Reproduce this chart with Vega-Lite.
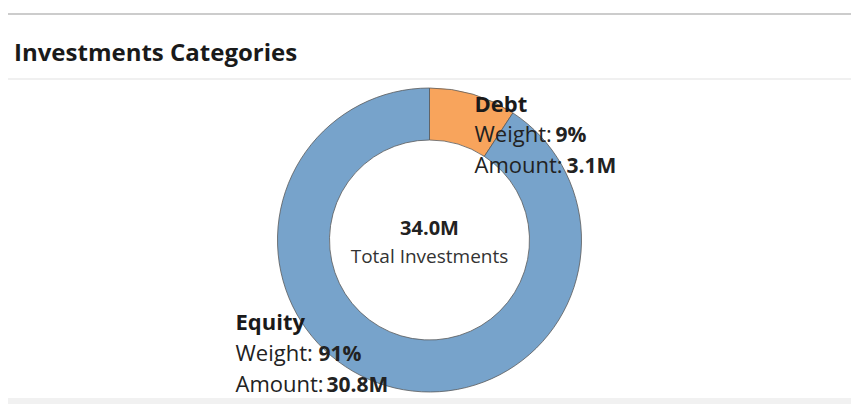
{
  "$schema": "https://vega.github.io/schema/vega-lite/v6.json",
  "autosize": {"type": "none"},
  "padding": {"left": 8, "top": 80, "right": 0, "bottom": 4},
  "width": 843,
  "height": 320,
  "background": "white",
  "config": {"view": {"stroke": null}, "font": "Open Sans"},
  "title": {
    "text": "Investments Categories",
    "anchor": "start",
    "frame": "group",
    "baseline": "alphabetic",
    "offset": -72,
    "dx": 6,
    "fontSize": 24,
    "fontWeight": "bold",
    "font": "Open Sans",
    "color": "#1a1a1a"
  },
  "data": {
    "values": [
      {"category": "Debt", "amount": 3140000, "weight": 0.092, "order": 1},
      {"category": "Equity", "amount": 30840000, "weight": 0.908, "order": 2}
    ]
  },
  "layer": [
    {
      "data": {"values": [{"line": "top"}]},
      "mark": {"type": "rule", "color": "#cccccc", "strokeWidth": 2},
      "encoding": {"y": {"value": -66}}
    },
    {
      "data": {"values": [{"line": "separator"}]},
      "mark": {"type": "rule", "color": "#f0f0f0", "strokeWidth": 2},
      "encoding": {"y": {"value": -1}}
    },
    {
      "data": {"values": [{"line": "bottom"}]},
      "mark": {"type": "rule", "color": "#f1f1f1", "strokeWidth": 6},
      "encoding": {"y": {"value": 321}}
    },
    {
      "mark": {"type": "arc", "outerRadius": 152, "innerRadius": 100, "stroke": "#5a5a5a", "strokeWidth": 0.8},
      "encoding": {
        "theta": {"field": "amount", "type": "quantitative", "stack": true},
        "order": {"field": "order", "type": "quantitative"},
        "color": {
          "field": "category",
          "type": "nominal",
          "scale": {"domain": ["Debt", "Equity"], "range": ["#f8a45c", "#77a3cb"]},
          "legend": null
        }
      }
    },
    {
      "transform": [{"aggregate": [{"op": "sum", "field": "amount", "as": "total"}]}],
      "mark": {"type": "text", "align": "center", "baseline": "alphabetic", "dy": -5, "fontSize": 20, "fontWeight": "bold", "color": "#222222"},
      "encoding": {"text": {"field": "total", "type": "quantitative", "format": ".3s"}}
    },
    {
      "transform": [{"aggregate": [{"op": "sum", "field": "amount", "as": "total"}]}],
      "mark": {"type": "text", "align": "center", "baseline": "alphabetic", "dy": 23, "fontSize": 19, "color": "#333333", "text": "Total Investments"},
      "encoding": {}
    },
    {
      "transform": [{"filter": "datum.category == 'Debt'"}],
      "layer": [
        {
          "mark": {"type": "text", "align": "left", "baseline": "alphabetic", "dx": 45, "dy": -128, "fontSize": 22, "fontWeight": "bold", "color": "#1a1a1a"},
          "encoding": {"text": {"field": "category", "type": "nominal"}}
        },
        {
          "mark": {"type": "text", "align": "left", "baseline": "alphabetic", "dx": 45, "dy": -98, "fontSize": 22, "color": "#222222", "text": "Weight:"},
          "encoding": {}
        },
        {
          "mark": {"type": "text", "align": "left", "baseline": "alphabetic", "dx": 126, "dy": -98, "fontSize": 21, "fontWeight": "bold", "color": "#222222"},
          "encoding": {"text": {"field": "weight", "type": "quantitative", "format": ".0%"}}
        },
        {
          "mark": {"type": "text", "align": "left", "baseline": "alphabetic", "dx": 45, "dy": -67, "fontSize": 22, "color": "#222222", "text": "Amount:"},
          "encoding": {}
        },
        {
          "mark": {"type": "text", "align": "left", "baseline": "alphabetic", "dx": 137, "dy": -67, "fontSize": 21, "fontWeight": "bold", "color": "#222222"},
          "encoding": {"text": {"field": "amount", "type": "quantitative", "format": ".2s"}}
        }
      ]
    },
    {
      "transform": [{"filter": "datum.category == 'Equity'"}],
      "layer": [
        {
          "mark": {"type": "text", "align": "left", "baseline": "alphabetic", "dx": -194, "dy": 90, "fontSize": 22, "fontWeight": "bold", "color": "#1a1a1a"},
          "encoding": {"text": {"field": "category", "type": "nominal"}}
        },
        {
          "mark": {"type": "text", "align": "left", "baseline": "alphabetic", "dx": -194, "dy": 121, "fontSize": 22, "color": "#222222", "text": "Weight:"},
          "encoding": {}
        },
        {
          "mark": {"type": "text", "align": "left", "baseline": "alphabetic", "dx": -111, "dy": 121, "fontSize": 21, "fontWeight": "bold", "color": "#222222"},
          "encoding": {"text": {"field": "weight", "type": "quantitative", "format": ".0%"}}
        },
        {
          "mark": {"type": "text", "align": "left", "baseline": "alphabetic", "dx": -194, "dy": 152, "fontSize": 22, "color": "#222222", "text": "Amount:"},
          "encoding": {}
        },
        {
          "mark": {"type": "text", "align": "left", "baseline": "alphabetic", "dx": -103, "dy": 152, "fontSize": 21, "fontWeight": "bold", "color": "#222222"},
          "encoding": {"text": {"field": "amount", "type": "quantitative", "format": ".3s"}}
        }
      ]
    }
  ]
}
